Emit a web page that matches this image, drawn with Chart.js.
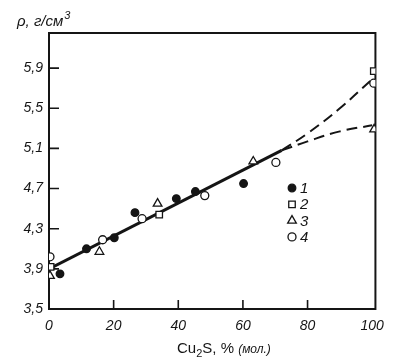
<!DOCTYPE html>
<html>
<head>
<meta charset="utf-8">
<script src="https://cdn.jsdelivr.net/npm/chart.js@4/dist/chart.umd.min.js"></script>
<style>
  html, body { margin: 0; background: #fff; }
</style>
</head>
<body>
<canvas id="c" width="393" height="362"></canvas>
<script>
const xTicks = [0, 20, 40, 60, 80, 100];
const yTicks = [3.5, 3.9, 4.3, 4.7, 5.1, 5.5, 5.9];

// measured points [Cu2S %, density]
const series1 = [[3.4, 3.85], [11.6, 4.10], [20.2, 4.21], [26.6, 4.46], [39.4, 4.60], [45.3, 4.67], [60.2, 4.75]];
const series2 = [[0.5, 3.92], [34.1, 4.44], [100.5, 5.87]];
const series3 = [[0.3, 3.83], [15.6, 4.07], [33.6, 4.55], [63.2, 4.97], [100.6, 5.29]];
const series4 = [[0.3, 4.02], [16.6, 4.19], [28.8, 4.40], [48.2, 4.63], [70.2, 4.96], [100.5, 5.75]];

// fitted line and extrapolations
const fitLine = [[0, 3.90], [72, 5.08]];
const upperDash = [[72, 5.08], [80, 5.25], [90, 5.50], [100, 5.79]];
const lowerDash = [[72, 5.08], [80, 5.17], [90, 5.27], [100, 5.33]];

const legendNames = ['1', '2', '3', '4'];

const INK = '#151515';
const toXY = (arr) => arr.map(([x, y]) => ({ x, y }));
const fmt = (v) => String(v).replace('.', ',');

const markers = [
  { pointStyle: 'circle', radius: 3.8, fill: INK },
  { pointStyle: 'rect', radius: 4.6, fill: '#fff' },
  { pointStyle: 'triangle', radius: 5, fill: '#fff' },
  { pointStyle: 'circle', radius: 4, fill: '#fff' },
];

const pointSet = (data, m) => ({
  data: toXY(data),
  showLine: false,
  pointStyle: m.pointStyle,
  pointRadius: m.radius,
  pointBackgroundColor: m.fill,
  pointBorderColor: INK,
  pointBorderWidth: 1.3,
});

const lineSet = (data, width, dash, tension) => ({
  data: toXY(data),
  showLine: true,
  borderColor: INK,
  borderWidth: width,
  borderDash: dash,
  tension,
  pointRadius: 0,
  fill: false,
});

const decor = {
  id: 'decor',
  beforeDatasetsDraw(chart) {
    const { ctx, chartArea: a, scales: { x, y } } = chart;
    ctx.save();
    ctx.strokeStyle = INK;
    ctx.lineWidth = 2;
    ctx.strokeRect(a.left, a.top, a.right - a.left, a.bottom - a.top);
    ctx.lineWidth = 1.6;
    ctx.beginPath();
    xTicks.slice(1, -1).forEach((v) => {
      const px = x.getPixelForValue(v);
      ctx.moveTo(px, a.bottom);
      ctx.lineTo(px, a.bottom - 9);
    });
    yTicks.slice(1).forEach((v) => {
      const py = y.getPixelForValue(v);
      ctx.moveTo(a.left, py);
      ctx.lineTo(a.left + 10, py);
    });
    ctx.stroke();
    ctx.restore();
  },
  afterDraw(chart) {
    const { ctx, chartArea: a } = chart;
    ctx.save();
    ctx.fillStyle = INK;
    ctx.textBaseline = 'alphabetic';

    // y title
    ctx.font = 'italic 15px "Liberation Sans"';
    ctx.fillText('ρ, г/см', 17, 26);
    const w = ctx.measureText('ρ, г/см').width;
    ctx.font = 'italic 11px "Liberation Sans"';
    ctx.fillText('3', 18 + w, 19);

    // x title
    let tx = a.left + 128;
    const ty = 353;
    ctx.font = '15px "Liberation Sans"';
    ctx.fillText('Cu', tx, ty);
    tx += ctx.measureText('Cu').width;
    ctx.font = '11px "Liberation Sans"';
    ctx.fillText('2', tx, ty + 4);
    tx += ctx.measureText('2').width;
    ctx.font = '15px "Liberation Sans"';
    ctx.fillText('S, %', tx, ty);
    tx += ctx.measureText('S, % ').width;
    ctx.font = 'italic 12px "Liberation Sans"';
    ctx.fillText('(мол.)', tx, ty);

    // legend
    const lx = a.left + 243;
    const ly = a.top + 155;
    markers.forEach((m, i) => {
      const cy = ly + i * 16.3;
      ctx.fillStyle = m.fill;
      ctx.strokeStyle = INK;
      ctx.lineWidth = 1.3;
      Chart.helpers.drawPoint(ctx, { pointStyle: m.pointStyle, radius: m.radius, rotation: 0, borderWidth: 1.3 }, lx, cy);
      ctx.fillStyle = INK;
      ctx.font = 'italic 15px "Liberation Sans"';
      ctx.textBaseline = 'middle';
      ctx.fillText(legendNames[i], lx + 8, cy + 1);
    });
    ctx.restore();
  },
};

new Chart(document.getElementById('c'), {
  type: 'scatter',
  data: {
    datasets: [
      pointSet(series1, markers[0]),
      pointSet(series2, markers[1]),
      pointSet(series3, markers[2]),
      pointSet(series4, markers[3]),
      lineSet(fitLine, 3, [], 0),
      lineSet(upperDash, 2, [11, 6], 0.4),
      lineSet(lowerDash, 2, [11, 6], 0.4),
    ],
  },
  options: {
    responsive: false,
    devicePixelRatio: 1,
    animation: false,
    layout: { padding: { top: 33, right: 13, left: 0, bottom: 0 } },
    plugins: { legend: { display: false }, tooltip: { enabled: false } },
    scales: {
      x: {
        type: 'linear',
        min: 0,
        max: 101,
        grid: { display: false, drawTicks: false },
        border: { display: false },
        afterBuildTicks: (s) => { s.ticks = xTicks.map((v) => ({ value: v })); },
        afterFit: (s) => { s.height = 53; },
        ticks: {
          color: INK,
          padding: 9,
          maxRotation: 0,
          font: { family: 'Liberation Sans', size: 14, style: 'italic' },
        },
      },
      y: {
        type: 'linear',
        min: 3.5,
        max: 6.25,
        grid: { display: false, drawTicks: false },
        border: { display: false },
        afterBuildTicks: (s) => { s.ticks = yTicks.map((v) => ({ value: v })); },
        afterFit: (s) => { s.width = 49; },
        ticks: {
          color: INK,
          padding: 6,
          callback: (v) => fmt(v),
          font: { family: 'Liberation Sans', size: 14, style: 'italic' },
        },
      },
    },
  },
  plugins: [decor],
});
</script>
</body>
</html>
